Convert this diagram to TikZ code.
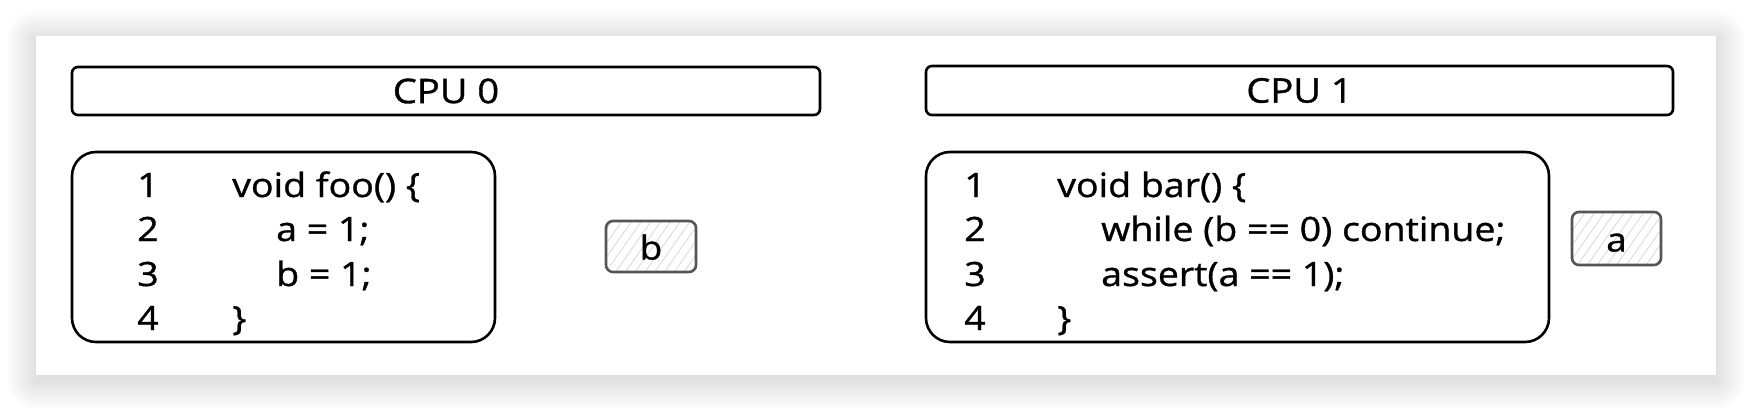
\documentclass[tikz,border=0pt]{standalone}
\usepackage{fontspec}
\setmainfont{Open Sans}[FakeStretch=1.12,FakeBold=1]
\usetikzlibrary{patterns.meta}
\definecolor{boxgray}{RGB}{85,85,85}
\definecolor{hatchgray}{RGB}{222,222,222}
\begin{document}
\begin{tikzpicture}[x=1pt,y=-1pt,
  bar/.style={draw=black, line width=2.6pt, rounded corners=6pt, inner sep=0pt,
    font=\fontsize{34}{40}\selectfont},
  codebox/.style={draw=black, line width=2.6pt, rounded corners=24pt, inner sep=0pt},
  varbox/.style={draw=boxgray, line width=2.6pt, rounded corners=7pt, inner sep=0pt,
    pattern={Lines[angle=55,distance=8pt,line width=1pt]}, pattern color=hatchgray,
    text height=26pt, text depth=0pt, font=\fontsize{33}{40}\selectfont},
  num/.style={anchor=base, inner sep=0pt, font=\fontsize{33.5}{40}\selectfont},
  code/.style={anchor=base west, inner sep=0pt, font=\fontsize{33.5}{40}\selectfont},
]
% page
\fill[white] (0,0) rectangle (1752,412);
\useasboundingbox (0,0) rectangle (1752,412);
% card shadow
\foreach \i in {1,...,30}
  \fill[black, opacity=0.0048, rounded corners=\i pt]
    (36-\i, 40-\i) rectangle (1716+\i, 380+\i);
\fill[white] (36,36) rectangle (1716,375);

% CPU bars
\node[bar, minimum width=748pt, minimum height=48pt] (cpu0) at (446,91) {CPU 0};
\node[bar, minimum width=747pt, minimum height=49pt] (cpu1) at (1299.5,90.5) {CPU 1};

% code boxes
\node[codebox, minimum width=423pt, minimum height=190pt] (code0) at (283.5,247) {};
\node[codebox, minimum width=623pt, minimum height=190pt] (code1) at (1237.5,247) {};

% left code
\node[num] (l1) at (148,197) {1};
\node[num] (l2) at (148,241) {2};
\node[num] (l3) at (148,286) {3};
\node[num] (l4) at (148,330) {4};
\node[code] (c1) at (232,197) {void foo() \{};
\node[code] (c2) at (276,241) {a = 1;};
\node[code] (c3) at (276,286) {b = 1;};
\node[code] (c4) at (232,330) {\}};

% right code
\node[num] (r1) at (975,197) {1};
\node[num] (r2) at (975,241) {2};
\node[num] (r3) at (975,286) {3};
\node[num] (r4) at (975,330) {4};
\node[code] (d1) at (1057,197) {void bar() \{};
\node[code] (d2) at (1101,241) {while (b == 0) continue;};
\node[code] (d3) at (1101,286) {assert(a == 1);};
\node[code] (d4) at (1057,330) {\}};

% variables
\node[varbox, minimum width=90pt, minimum height=51pt] (varb) at (651,246.5) {b};
\node[varbox, minimum width=89pt, minimum height=53pt] (vara) at (1616.5,238.5) {a};
\end{tikzpicture}
\end{document}
